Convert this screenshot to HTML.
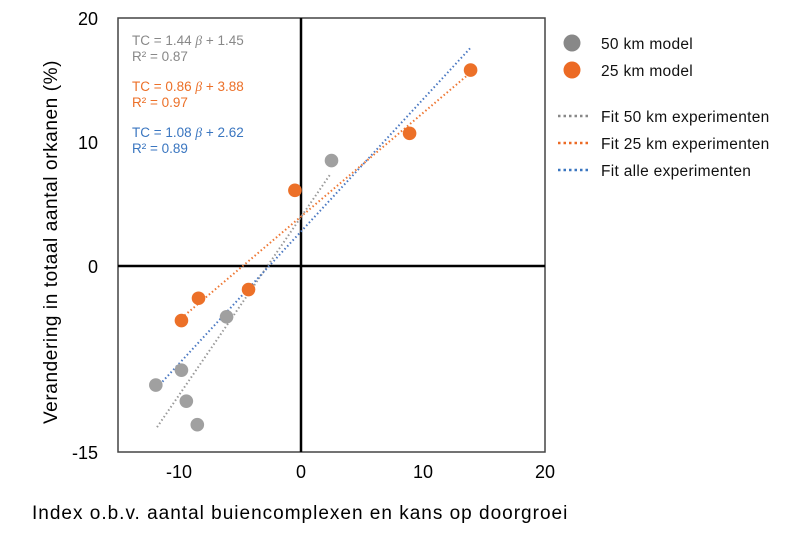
<!DOCTYPE html>
<html><head><meta charset="utf-8"><style>
body{margin:0;background:#fff;width:800px;height:531px;overflow:hidden;font-family:"Liberation Sans",sans-serif}
</style></head><body>
<svg id="chart" width="800" height="531" xmlns="http://www.w3.org/2000/svg" font-family="Liberation Sans, sans-serif">
</svg>
<script>
const xTicks=[-10,0,10,20];
const yTicks=[20,10,0,-15];
const gray50X=[-11.9,-9.8,-9.4,-8.5,-6.1,2.5];
const gray50Y=[-9.6,-8.4,-10.9,-12.8,-4.1,8.5];
const orange25X=[-9.8,-8.4,-4.3,-0.5,8.9,13.9];
const orange25Y=[-4.4,-2.6,-1.9,6.1,10.7,15.8];
const fit50X=[-11.8,2.4];
const fit50Y=[-13.0,7.4];
const fit25X=[-9.8,13.9];
const fit25Y=[-4.2,15.6];
const fitAllX=[-11.8,13.9];
const fitAllY=[-9.8,17.6];
const X0=-15,X1=20,Y0=-15,Y1=20,L=118,R=545,T=18,B=452;
const sx=v=>L+(v-X0)/(X1-X0)*(R-L);
const sy=v=>B-(v-Y0)/(Y1-Y0)*(B-T);
const svg=document.getElementById('chart');
const NS='http://www.w3.org/2000/svg';
function mk(tag,attrs,parent){const e=document.createElementNS(NS,tag);for(const k in attrs)e.setAttribute(k,attrs[k]);(parent||svg).appendChild(e);return e;}
let e;
e=mk('rect',{x:L,y:T,width:R-L,height:B-T,fill:'none',stroke:'#444','stroke-width':1.5});


e=mk('line',{x1:sx(0),x2:sx(0),y1:T,y2:B,stroke:'#000','stroke-width':2.5});


e=mk('line',{x1:L,x2:R,y1:sy(0),y2:sy(0),stroke:'#000','stroke-width':2.5});


xTicks.forEach(v=>{const t=mk('text',{x:sx(v),y:478,'text-anchor':'middle','font-size':18,fill:'#000'});t.textContent=v;

});
yTicks.forEach(v=>{const t=mk('text',{x:98,y:sy(v)+7,'text-anchor':'end','font-size':18,fill:'#000'});t.textContent=v;

});
function fit(xs,ys,col,name){const l=mk('line',{x1:sx(xs[0]),y1:sy(ys[0]),x2:sx(xs[1]),y2:sy(ys[1]),stroke:col,'stroke-width':2,'stroke-dasharray':'1.5 2.5'});

}
fit(fit50X,fit50Y,'#999','fit-50km-line');
fit(fit25X,fit25Y,'#ee7733','fit-25km-line');
fit(fitAllX,fitAllY,'#4a78c2','fit-all-line');
gray50X.forEach((v,i)=>{const c=mk('circle',{cx:sx(v),cy:sy(gray50Y[i]),r:6.8,fill:'#a0a0a0'});

});
orange25X.forEach((v,i)=>{const c=mk('circle',{cx:sx(v),cy:sy(orange25Y[i]),r:6.8,fill:'#ec7028'});

});
function txt(x,y,s,col,size,name,ls){const t=mk('text',{x:x,y:y,'font-size':size,fill:col,'letter-spacing':ls||0});t.innerHTML=s;

return t;}
txt(132,45,'TC = 1.44 <tspan font-style="italic" font-family="Liberation Serif">β</tspan> + 1.45','#888',13.5,'equation-50km');
txt(132,61,'R² = 0.87','#888',13.5,'r2-50km');
txt(132,91,'TC = 0.86 <tspan font-style="italic" font-family="Liberation Serif">β</tspan> + 3.88','#ec7028',13.5,'equation-25km');
txt(132,107,'R² = 0.97','#ec7028',13.5,'r2-25km');
txt(132,137,'TC = 1.08 <tspan font-style="italic" font-family="Liberation Serif">β</tspan> + 2.62','#3a76c0',13.5,'equation-all');
txt(132,153,'R² = 0.89','#3a76c0',13.5,'r2-all');
let c=mk('circle',{cx:572,cy:43,r:8.5,fill:'#888'});


c=mk('circle',{cx:572,cy:70,r:8.5,fill:'#ec6a24'});


txt(601,49,'50 km model','#111',15.5,'legend-50km-model',0.3);
txt(601,76,'25 km model','#111',15.5,'legend-25km-model',0.3);
[['#888',116,'Fit 50 km experimenten','legend-fit-50km'],['#ec6a24',143,'Fit 25 km experimenten','legend-fit-25km'],['#3a76c0',170,'Fit alle experimenten','legend-fit-all']].forEach(d=>{
const l=mk('line',{x1:558,x2:588,y1:d[1],y2:d[1],stroke:d[0],'stroke-width':2.5,'stroke-dasharray':'2.5 3'});


txt(601,d[1]+6,d[2],'#111',15.5,d[3],0.3);});
const yt=mk('text',{x:0,y:0,'font-size':19,fill:'#000','text-anchor':'middle','letter-spacing':0.6,transform:'translate(57,242) rotate(-90)'});
yt.textContent='Verandering in totaal aantal orkanen (%)';


txt(32,519,'Index o.b.v. aantal buiencomplexen en kans op doorgroei','#000',19,'x-axis-title',1);
</script>
</body></html>
